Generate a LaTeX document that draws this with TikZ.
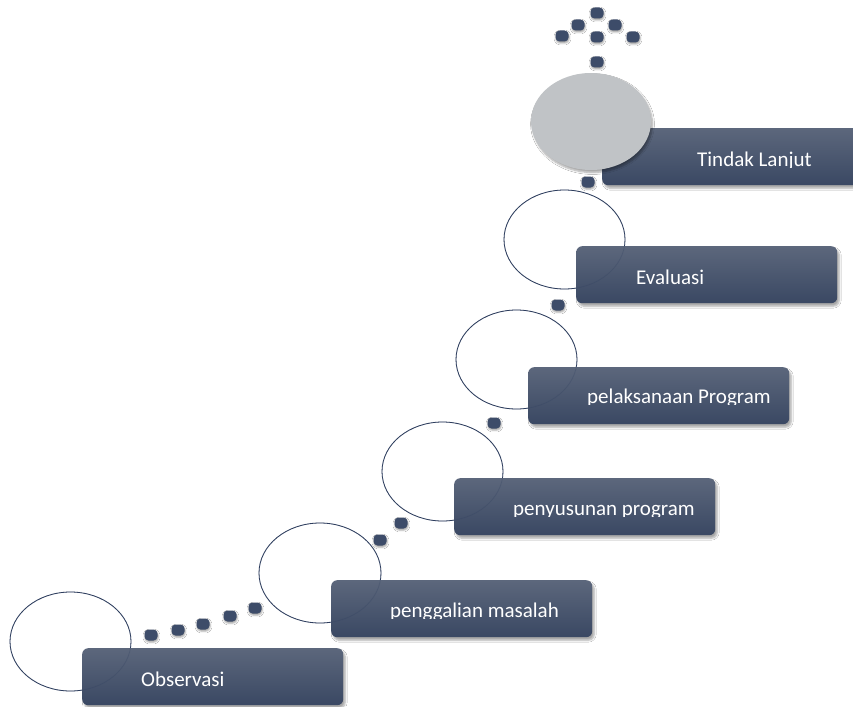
\documentclass[tikz,border=0pt]{standalone}
\usepackage{fontspec}
\setmainfont{Carlito}
\usetikzlibrary{shapes.geometric,shadows.blur}
\definecolor{boxtop}{HTML}{5C677C}
\definecolor{boxbot}{HTML}{3A4863}
\definecolor{dotc}{HTML}{3D4C69}
\definecolor{linec}{HTML}{2E3E5E}
\definecolor{greyc}{HTML}{C0C3C6}
\tikzset{
  stepbox/.style={rounded corners=6pt, minimum width=261pt, minimum height=57pt,
    top color=boxtop, bottom color=boxbot, draw=none, inner sep=0pt, anchor=north west,
    blur shadow={shadow xshift=2pt, shadow yshift=-3pt, shadow blur steps=6, shadow opacity=35}},
  ring/.style={ellipse, minimum width=121pt, minimum height=99pt, inner sep=0pt,
    draw=linec, line width=0.8pt},
  faintring/.style={ring, draw opacity=0.25},
  greyring/.style={ellipse, minimum width=120pt, minimum height=97pt, inner sep=0pt,
    fill=greyc, draw=none,
    blur shadow={shadow xshift=1.5pt, shadow yshift=-2.5pt, shadow blur steps=6, shadow opacity=35}},
  dotbox/.style={rounded corners=4pt, minimum width=13pt, minimum height=11pt,
    fill=dotc, inner sep=0pt,
    blur shadow={shadow xshift=0.5pt, shadow yshift=-1.5pt, shadow blur steps=3, shadow opacity=40}},
  lab/.style={text=white, font=\fontsize{21}{25}\selectfont, anchor=base west, inner sep=0pt},
}
\begin{document}
\begin{tikzpicture}[x=1pt,y=-1pt]
\useasboundingbox (0,0) rectangle (853,706);
\fill[white] (0,0) rectangle (853,706);
% outline ellipses
\node[ring] (e1) at (70.5,641.5) {};
\node[ring, minimum width=122pt, minimum height=100pt] (e2) at (320,573) {};
\node[ring] (e3) at (442.5,471.5) {};
\node[ring] (e4) at (516.5,359.5) {};
\node[ring] (e5) at (564.5,239.5) {};
% boxes
\node[stepbox] (b1) at (82,648) {};
\node[stepbox] (b2) at (331,580) {};
\node[stepbox] (b3) at (454,478) {};
\node[stepbox] (b4) at (528,367) {};
\node[stepbox] (b5) at (576,246) {};
\node[stepbox] (b6) at (602,128) {};
% faint ellipse lines over boxes
\node[faintring] (f1) at (70.5,641.5) {};
\node[faintring, minimum width=122pt, minimum height=100pt] (f2) at (320,573) {};
\node[faintring] (f3) at (442.5,471.5) {};
\node[faintring] (f4) at (516.5,359.5) {};
\node[faintring] (f5) at (564.5,239.5) {};
% grey ellipse
\node[greyring] (e6) at (591,121.5) {};
% labels (clipped at bottom like the original)
\begin{scope}\clip (82,648) rectangle (343,687);
\node[lab] (t1) at (141,686) {Observasi};\end{scope}
\begin{scope}\clip (331,580) rectangle (592,618);
\node[lab] (t2) at (390,617) {penggalian masalah};\end{scope}
\begin{scope}\clip (454,478) rectangle (715,516.5);
\node[lab] (t3) at (513,515) {penyusunan program};\end{scope}
\begin{scope}\clip (528,367) rectangle (789,404.5);
\node[lab] (t4) at (587,403) {pelaksanaan Program};\end{scope}
\begin{scope}\clip (576,246) rectangle (837,285.5);
\node[lab] (t5) at (636,284) {Evaluasi};\end{scope}
\begin{scope}\clip (602,128) rectangle (863,167.5);
\node[lab] (t6) at (697,166) {Tindak Lanjut};\end{scope}
% dots
\node[dotbox] (d1) at (151,635) {};
\node[dotbox] (d2) at (178,630) {};
\node[dotbox] (d3) at (203,624) {};
\node[dotbox] (d4) at (230,616) {};
\node[dotbox] (d5) at (255,608) {};
\node[dotbox] (d6) at (380,540) {};
\node[dotbox] (d7) at (401,523) {};
\node[dotbox] (d8) at (494,423) {};
\node[dotbox] (d9) at (558,305) {};
\node[dotbox] (d10) at (588,182) {};
\node[dotbox] (d11) at (597,62) {};
\node[dotbox] (d12) at (597,13) {};
\node[dotbox] (d13) at (578,25) {};
\node[dotbox] (d14) at (615,25) {};
\node[dotbox] (d15) at (562,36) {};
\node[dotbox] (d16) at (597,37) {};
\node[dotbox] (d17) at (633,37) {};
\end{tikzpicture}
\end{document}
